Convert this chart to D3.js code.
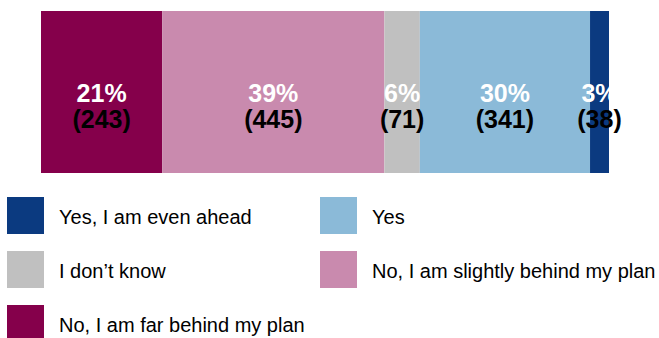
<!DOCTYPE html>
<html>
<head>
<meta charset="utf-8">
<script src="https://cdn.jsdelivr.net/npm/d3@7"></script>
<style>
  html, body { margin: 0; padding: 0; background: #fff; }
  svg { display: block; }
</style>
</head>
<body>
<svg id="chart" width="659" height="338"></svg>
<script>
const categories = ["No, I am far behind my plan", "No, I am slightly behind my plan", "I don’t know", "Yes", "Yes, I am even ahead"];
const counts = [243, 445, 71, 341, 38];
const percents = ["21%", "39%", "6%", "30%", "3%"];
const colors = ["#85004B", "#C98AAE", "#C0C0C0", "#8BBAD8", "#0B3A80"];
const legendOrder = ["Yes, I am even ahead", "Yes", "I don’t know", "No, I am slightly behind my plan", "No, I am far behind my plan"];

const svg = d3.select("#chart");
const total = d3.sum(counts);
const x = d3.scaleLinear().domain([0, total]).range([41, 609]);
const y = d3.scaleBand().domain(["all"]).range([11, 173]).padding(0);

let cum = 0;
const segs = counts.map((c, i) => {
  const s = { cat: categories[i], start: cum, end: cum + c, count: c, pct: percents[i], color: colors[i] };
  cum += c;
  return s;
});

const g = svg.append("g");
g.selectAll("rect.seg").data(segs).join("rect")
  .attr("class", "seg")
  .attr("x", d => x(d.start))
  .attr("y", y("all"))
  .attr("width", d => x(d.end) - x(d.start))
  .attr("height", y.bandwidth())
  .attr("fill", d => d.color);

const font = "'Liberation Sans', Arial, sans-serif";
g.selectAll("text.pct").data(segs).join("text")
  .attr("class", "pct")
  .attr("x", d => (x(d.start) + x(d.end)) / 2)
  .attr("y", 102)
  .attr("text-anchor", "middle")
  .attr("font-family", font)
  .attr("font-weight", "bold")
  .attr("font-size", 25)
  .attr("fill", "#fff")
  .text(d => d.pct);

g.selectAll("text.cnt").data(segs).join("text")
  .attr("class", "cnt")
  .attr("x", d => (x(d.start) + x(d.end)) / 2)
  .attr("y", 128)
  .attr("text-anchor", "middle")
  .attr("font-family", font)
  .attr("font-weight", "bold")
  .attr("font-size", 25)
  .attr("fill", "#000")
  .text(d => "(" + d.count + ")");

const colorOf = d3.scaleOrdinal().domain(categories).range(colors);
const leg = svg.append("g");
const items = leg.selectAll("g").data(legendOrder).join("g")
  .attr("transform", (d, i) => `translate(${i % 2 === 0 ? 7 : 320},${197 + Math.floor(i / 2) * 54})`);
items.append("rect")
  .attr("width", 37).attr("height", 37)
  .attr("fill", d => colorOf(d));
items.append("text")
  .attr("x", 52).attr("y", 27)
  .attr("font-family", font)
  .attr("font-size", 20)
  .attr("fill", "#000")
  .text(d => d);
</script>
</body>
</html>
